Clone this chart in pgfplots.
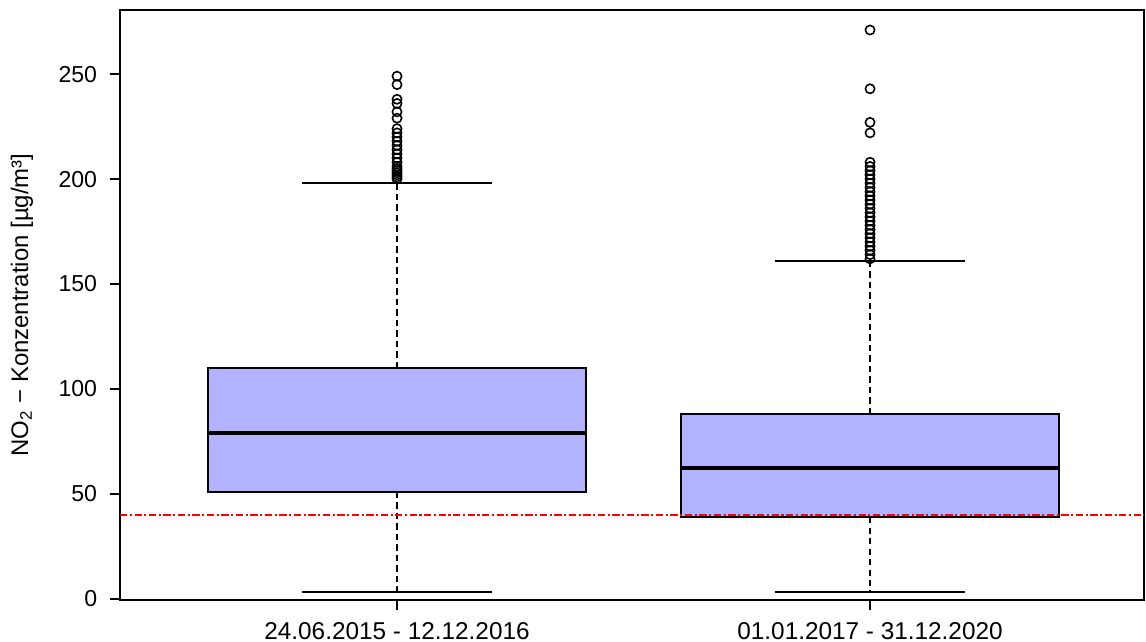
\documentclass[border=0pt]{standalone}
\usepackage{fontspec}
\setmainfont{Liberation Sans}
\usepackage{pgfplots}
\pgfplotsset{compat=1.18}
\definecolor{boxfill}{RGB}{178,178,255}

\pgfplotsset{
  whisk/.style={black, line width=0.8pt, dash pattern=on 3pt off 2pt},
  cap/.style={black, line width=0.8pt},
  outl/.style={only marks, mark=o, mark size=2.2pt, mark options={black, solid, line width=0.75pt}},
}

\begin{document}
\begin{tikzpicture}
\begin{axis}[
  name=ax,
  scale only axis,
  width=487.9pt, height=281.1pt,
  xmin=0.4144, xmax=2.579,
  ymin=-0.5, ymax=280.5,
  xtick={1,2},
  xticklabels={24.06.2015 - 12.12.2016, 01.01.2017 - 31.12.2020},
  ytick={0,50,...,250},
  xtick pos=bottom, ytick pos=left,
  tick align=outside,
  major tick length=5pt,
  axis line style={line width=0.8pt},
  every tick/.style={black, line width=0.8pt},
  font=\fontsize{11}{13}\selectfont,
  /pgf/number format/assume math mode=true,
  yticklabel style={xshift=-2.4pt},
  xticklabel style={yshift=-2pt, font=\fontsize{11.6}{13}\selectfont},
  ylabel={NO\textsubscript{2} − Konzentration [µg/m³]},
  every axis y label/.style={at={(axis description cs:0,0.5)}, rotate=90, anchor=center,
    yshift=46.7pt, font=\fontsize{11.4}{13}\selectfont},
  clip=false,
]
% 24.06.2015 - 12.12.2016
\addplot[whisk] coordinates {(1,110) (1,198)};
\addplot[whisk] coordinates {(1,51) (1,3.3)};
\addplot[cap] coordinates {(0.8,198) (1.2,198)};
\addplot[cap] coordinates {(0.8,3.3) (1.2,3.3)};
\addplot[fill=boxfill, draw=black, line width=0.8pt]
  coordinates {(0.6,51) (1.4,51) (1.4,110) (0.6,110)} -- cycle;
\addplot[black, line width=2pt] coordinates {(0.6,79) (1.4,79)};
\addplot[outl] coordinates {(1,249) (1,245) (1,238) (1,236) (1,232) (1,229) (1,224) (1,222)
    (1,220) (1,218) (1,216) (1,214) (1,212) (1,210) (1,208) (1,206) (1,205)
    (1,204) (1,203) (1,202) (1,201) (1,200)};
% 01.01.2017 - 31.12.2020
\addplot[whisk] coordinates {(2,88) (2,161)};
\addplot[whisk] coordinates {(2,39) (2,3.3)};
\addplot[cap] coordinates {(1.8,161) (2.2,161)};
\addplot[cap] coordinates {(1.8,3.3) (2.2,3.3)};
\addplot[fill=boxfill, draw=black, line width=0.8pt]
  coordinates {(1.6,39) (2.4,39) (2.4,88) (1.6,88)} -- cycle;
\addplot[black, line width=2pt] coordinates {(1.6,62.4) (2.4,62.4)};
\addplot[outl] coordinates {(2,271) (2,243) (2,227) (2,222) (2,208) (2,206) (2,204) (2,202)
    (2,200) (2,198) (2,196) (2,194) (2,192) (2,190) (2,188) (2,186) (2,184)
    (2,182) (2,180) (2,178) (2,176) (2,174) (2,172) (2,170) (2,168) (2,166)
    (2,164) (2,162)};
% limit 40
\addplot[red, line width=0.6pt, dash pattern=on 3.5pt off 1.2pt on 1pt off 1.2pt]
  coordinates {(0.4144,40) (2.579,40)};
\end{axis}
\pgfresetboundingbox
\path ([shift={(-57.2pt,-20pt)}]ax.south west) rectangle ([shift={(1pt,4.8pt)}]ax.north east);
\end{tikzpicture}
\end{document}
